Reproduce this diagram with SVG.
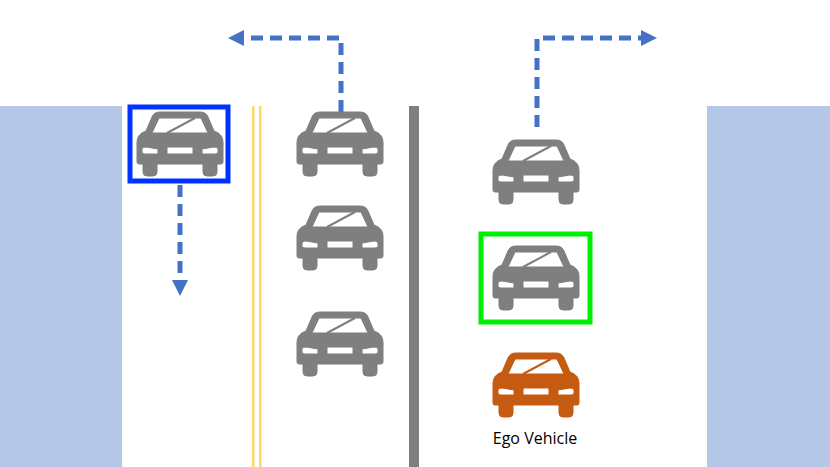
<svg xmlns="http://www.w3.org/2000/svg" xmlns:xlink="http://www.w3.org/1999/xlink" width="830" height="467" viewBox="0 0 830 467">
<style>
.arr{fill:none;stroke:#4472C4;stroke-width:5;stroke-dasharray:12,7}
.hd{fill:#4472C4}
.win{fill:#fff}
text{font-family:"Open Sans","Liberation Sans",sans-serif;font-size:16px;fill:#000}
</style>
<defs>
<g id="car">
<path d="M15,5 Q17,0 23,0 H63 Q69,0 71,5 L77,19 Q86,22 86,30 V50 Q86,52 84,52 H80 V60 Q80,64 76,64 H70 Q66,64 66,60 V52 H20 V60 Q20,64 16,64 H10 Q6,64 6,60 V52 H2 Q0,52 0,50 V30 Q0,22 9,19 Z"/>
<path class="win" d="M22,6 H64 L71,21 H15 Z"/>
<path d="M30,21 L58,6" stroke="inherit" stroke-width="2"/>
<path class="win" d="M5,37 Q5,35 9,35 L21,37 V42 H8 Q5,42 5,40 Z M30,35 H56 V42 H30 Z M81,37 Q81,35 77,35 L65,37 V42 H78 Q81,42 81,40 Z"/>
</g>
</defs>
<rect width="830" height="467" fill="#fff"/>
<rect x="0" y="106" width="122" height="361" fill="#B4C7E7"/>
<rect x="707" y="106" width="123" height="361" fill="#B4C7E7"/>
<rect x="252" y="106" width="2.5" height="361" fill="#FFD966"/>
<rect x="259" y="106" width="2.5" height="361" fill="#FFD966"/>
<rect x="409" y="106" width="10" height="361" fill="#7F7F7F"/>
<g id="connectors">
<path class="arr" d="M341,112 V38 H242"/><path class="hd" d="M228,38 L244,30 V46 Z"/>
<path class="arr" d="M537,127 V38 H643"/><path class="hd" d="M657,38 L641,30 V46 Z"/>
<path class="arr" d="M180,185 V280"/><path class="hd" d="M180,296 L172,280 H188 Z"/>
</g>
<g id="car1" fill="#7F7F7F" stroke="#7F7F7F"><use xlink:href="#car" x="137" y="112"/></g>
<rect x="130" y="107" width="98" height="74" fill="none" stroke="#0033FF" stroke-width="5"/>
<g id="car2" fill="#7F7F7F" stroke="#7F7F7F"><use xlink:href="#car" x="297" y="112"/></g>
<g id="car3" fill="#7F7F7F" stroke="#7F7F7F"><use xlink:href="#car" x="297" y="206"/></g>
<g id="car4" fill="#7F7F7F" stroke="#7F7F7F"><use xlink:href="#car" x="297" y="312"/></g>
<g id="car5" fill="#7F7F7F" stroke="#7F7F7F"><use xlink:href="#car" x="493" y="140"/></g>
<g id="car6" fill="#7F7F7F" stroke="#7F7F7F"><use xlink:href="#car" x="493" y="246"/></g>
<rect x="481" y="234" width="109" height="88" fill="none" stroke="#00EE00" stroke-width="5"/>
<g id="ego" fill="#C55A11" stroke="#C55A11"><use xlink:href="#car" x="493" y="353"/>
<text x="535" y="444" text-anchor="middle" stroke="none">Ego Vehicle</text></g>
</svg>
